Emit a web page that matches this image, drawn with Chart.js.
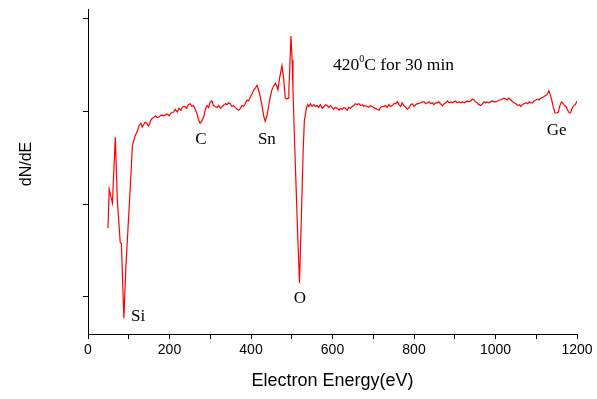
<!DOCTYPE html>
<html>
<head>
<meta charset="utf-8">
<title>AES spectrum</title>
<script src="https://cdn.jsdelivr.net/npm/chart.js@4.4.1/dist/chart.umd.min.js"></script>
<style>
  html, body { margin: 0; padding: 0; background: #fff; }
</style>
</head>
<body>
<canvas id="augerChart" width="597" height="399"></canvas>
<script>
// Auger spectrum, sample annealed at 420 C for 30 min
const energy = [
  49, 52, 55, 60, 67, 72, 79, 82, 88, 93, 102, 109, 116, 121, 125, 130, 133, 136, 140, 144,
  148, 151, 154, 157, 161, 165, 170, 175, 180, 185, 190, 194, 199, 204, 210, 214, 219, 223, 228, 233,
  238, 242, 246, 251, 255, 259, 263, 267, 271, 275, 279, 284, 288, 292, 296, 300, 304, 308, 312, 317,
  321, 325, 330, 334, 337, 341, 345, 349, 353, 357, 361, 366, 370, 374, 378, 382, 386, 390, 394, 398,
  403, 407, 411, 415, 419, 423, 427, 431, 435, 439, 443, 447, 452, 456, 460, 463, 466, 470, 473, 476,
  478, 480, 484, 488, 491, 493, 495, 498, 501, 503, 507, 509, 515, 519, 523, 528, 531, 536, 539, 542,
  546, 550, 554, 558, 562, 566, 570, 575, 579, 583, 587, 591, 595, 599, 603, 607, 612, 616, 620, 624,
  628, 632, 636, 640, 644, 648, 652, 656, 660, 665, 669, 673, 677, 681, 685, 689, 693, 697, 701, 705,
  709, 714, 718, 722, 726, 730, 734, 738, 742, 747, 751, 755, 759, 763, 767, 771, 775, 780, 784, 788,
  792, 796, 800, 804, 808, 812, 816, 820, 825, 829, 833, 837, 841, 845, 849, 853, 857, 861, 865, 870,
  874, 878, 882, 886, 890, 894, 898, 902, 906, 911, 915, 919, 923, 927, 931, 935, 939, 943, 947, 951,
  955, 959, 964, 968, 972, 976, 980, 984, 988, 992, 996, 1000, 1005, 1009, 1013, 1017, 1021, 1025, 1029, 1033,
  1038, 1042, 1046, 1050, 1054, 1058, 1062, 1066, 1070, 1075, 1079, 1083, 1087, 1091, 1095, 1099, 1103, 1107, 1111, 1116,
  1120, 1124, 1128, 1131, 1134, 1138, 1142, 1146, 1150, 1154, 1158, 1162, 1166, 1170, 1173, 1177, 1181, 1184, 1188, 1192,
  1196, 1200
];

const dNdE = [
  0.74, 1.16, 1.10, 1.01, 1.72, 1.04, 0.59, 0.57, -0.23, 0.33, 1.04, 1.63, 1.74, 1.78, 1.84, 1.87, 1.83, 1.85, 1.88, 1.87,
  1.84, 1.86, 1.90, 1.92, 1.93, 1.95, 1.93, 1.94, 1.96, 1.95, 1.96, 1.97, 1.95, 1.98, 1.99, 2.02, 1.99, 2.03, 2.01, 2.05,
  2.05, 2.03, 2.07, 2.08, 2.05, 2.06, 2.02, 1.98, 1.91, 1.87, 1.89, 1.94, 2.02, 2.06, 2.04, 2.10, 2.11, 2.06, 2.05, 2.04,
  2.06, 2.03, 2.05, 2.07, 2.08, 2.07, 2.09, 2.08, 2.05, 2.06, 2.04, 2.02, 2.01, 2.03, 2.06, 2.05, 2.08, 2.12, 2.11, 2.15,
  2.19, 2.23, 2.25, 2.28, 2.22, 2.15, 2.06, 1.95, 1.89, 1.95, 2.05, 2.15, 2.24, 2.27, 2.30, 2.27, 2.23, 2.35, 2.42, 2.49,
  2.42, 2.35, 2.14, 2.13, 2.14, 2.25, 2.44, 2.81, 2.55, 2.23, 1.66, 1.40, 0.61, 0.15, 0.76, 1.58, 1.90, 2.03, 2.07, 2.05,
  2.08, 2.05, 2.07, 2.05, 2.06, 2.04, 2.07, 2.03, 2.05, 2.07, 2.06, 2.04, 2.06, 2.04, 2.02, 2.04, 2.03, 2.01, 2.03, 2.02,
  2.04, 2.03, 2.01, 2.04, 2.03, 2.05, 2.06, 2.08, 2.07, 2.08, 2.06, 2.07, 2.05, 2.06, 2.05, 2.04, 2.06, 2.05, 2.04, 2.03,
  2.02, 2.01, 2.04, 2.05, 2.05, 2.06, 2.04, 2.07, 2.05, 2.06, 2.08, 2.08, 2.10, 2.07, 2.05, 2.09, 2.06, 2.04, 2.02, 2.04,
  2.07, 2.08, 2.05, 2.07, 2.08, 2.08, 2.09, 2.10, 2.10, 2.08, 2.09, 2.10, 2.08, 2.09, 2.07, 2.09, 2.09, 2.10, 2.08, 2.06,
  2.08, 2.09, 2.11, 2.09, 2.10, 2.09, 2.10, 2.11, 2.09, 2.10, 2.09, 2.10, 2.09, 2.10, 2.11, 2.10, 2.11, 2.13, 2.12, 2.10,
  2.09, 2.07, 2.06, 2.08, 2.10, 2.09, 2.10, 2.09, 2.10, 2.11, 2.10, 2.10, 2.11, 2.12, 2.12, 2.13, 2.14, 2.13, 2.12, 2.14,
  2.12, 2.10, 2.09, 2.08, 2.06, 2.07, 2.05, 2.07, 2.08, 2.09, 2.08, 2.10, 2.09, 2.09, 2.11, 2.12, 2.13, 2.12, 2.14, 2.15,
  2.16, 2.17, 2.19, 2.22, 2.18, 2.12, 2.04, 1.98, 1.98, 1.99, 2.06, 2.10, 2.08, 2.06, 2.05, 2.01, 1.98, 1.98, 2.03, 2.06,
  2.07, 2.11
];

// tick marks every 100 eV, labels every 200 eV
const xTickValues = [0, 100, 200, 300, 400, 500, 600, 700, 800, 900, 1000, 1100, 1200];
const yTickValues = [0, 1, 2, 3];

const peakNames = ['Si', 'C', 'Sn', 'O', 'Ge'];

const sansFont = '"Liberation Sans", Arial, sans-serif';
const serifFont = '"Liberation Serif", "Times New Roman", serif';

Chart.defaults.font.family = sansFont;
Chart.defaults.color = '#000';

// element labels and the anneal note, placed in data coordinates
const peakLabelPlugin = {
  id: 'peakLabels',
  afterDatasetsDraw(chart, args, opts) {
    const { ctx, scales: { x, y } } = chart;
    ctx.save();
    ctx.fillStyle = '#000';
    ctx.textAlign = 'center';
    ctx.textBaseline = 'middle';
    ctx.font = '17px ' + serifFont;
    peakNames.forEach((name, i) => {
      const pos = opts.positions[i];
      ctx.fillText(name, x.getPixelForValue(pos[0]), y.getPixelForValue(pos[1]));
    });

    // "420°C for 30 min" with a raised 0
    let px = x.getPixelForValue(opts.note[0]);
    const py = y.getPixelForValue(opts.note[1]);
    ctx.textAlign = 'left';
    ctx.textBaseline = 'alphabetic';
    ctx.font = '17.5px ' + serifFont;
    ctx.fillText('420', px, py);
    px += ctx.measureText('420').width;
    ctx.font = '10px ' + serifFont;
    ctx.fillText('0', px, py - 8);
    px += ctx.measureText('0').width;
    ctx.font = '17.5px ' + serifFont;
    ctx.fillText('C for 30 min', px, py);

    // y axis title
    ctx.font = '16px ' + sansFont;
    ctx.textAlign = 'center';
    ctx.textBaseline = 'middle';
    ctx.translate(27, 164);
    ctx.rotate(-Math.PI / 2);
    ctx.fillText('dN/dE', 0, 0);
    ctx.restore();
  }
};

const ctx = document.getElementById('augerChart').getContext('2d');
const augerChart = new Chart(ctx, {
  type: 'line',
  data: {
    datasets: [{
      label: 'dN/dE',
      data: energy.map((e, i) => ({ x: e, y: dNdE[i] })),
      borderColor: '#ff0000',
      borderWidth: 1.2,
      pointRadius: 0,
      tension: 0,
      fill: false
    }]
  },
  options: {
    responsive: false,
    animation: false,
    layout: { padding: { top: 9, right: 20, left: 0, bottom: 0 } },
    plugins: {
      legend: { display: false },
      tooltip: { enabled: false },
      peakLabels: {
        positions: [[123, -0.21], [277, 1.69], [439, 1.69], [520, -0.02], [1150, 1.79]],
        note: [601, 2.44]
      }
    },
    scales: {
      x: {
        type: 'linear',
        min: 0,
        max: 1200,
        afterBuildTicks: axis => { axis.ticks = xTickValues.map(v => ({ value: v })); },
        afterFit: axis => { axis.height = 65; },
        ticks: {
          autoSkip: false,
          maxRotation: 0,
          padding: 3,
          font: { size: 14 },
          color: '#000',
          callback: v => (v % 200 === 0 ? v : '')
        },
        grid: { drawOnChartArea: false, tickLength: 5, tickColor: '#000', tickWidth: 1 },
        border: { display: true, color: '#000', width: 1 },
        title: {
          display: true,
          text: 'Electron Energy(eV)',
          color: '#000',
          font: { size: 18 },
          padding: { top: 0, bottom: 7 }
        }
      },
      y: {
        type: 'linear',
        min: -0.4,
        max: 3.1,
        afterBuildTicks: axis => { axis.ticks = yTickValues.map(v => ({ value: v })); },
        afterFit: axis => { axis.width = 88; },
        ticks: { display: false },
        grid: { drawOnChartArea: false, tickLength: 5, tickColor: '#000', tickWidth: 1 },
        border: { display: true, color: '#000', width: 1 }
      }
    }
  },
  plugins: [peakLabelPlugin]
});
</script>
</body>
</html>
